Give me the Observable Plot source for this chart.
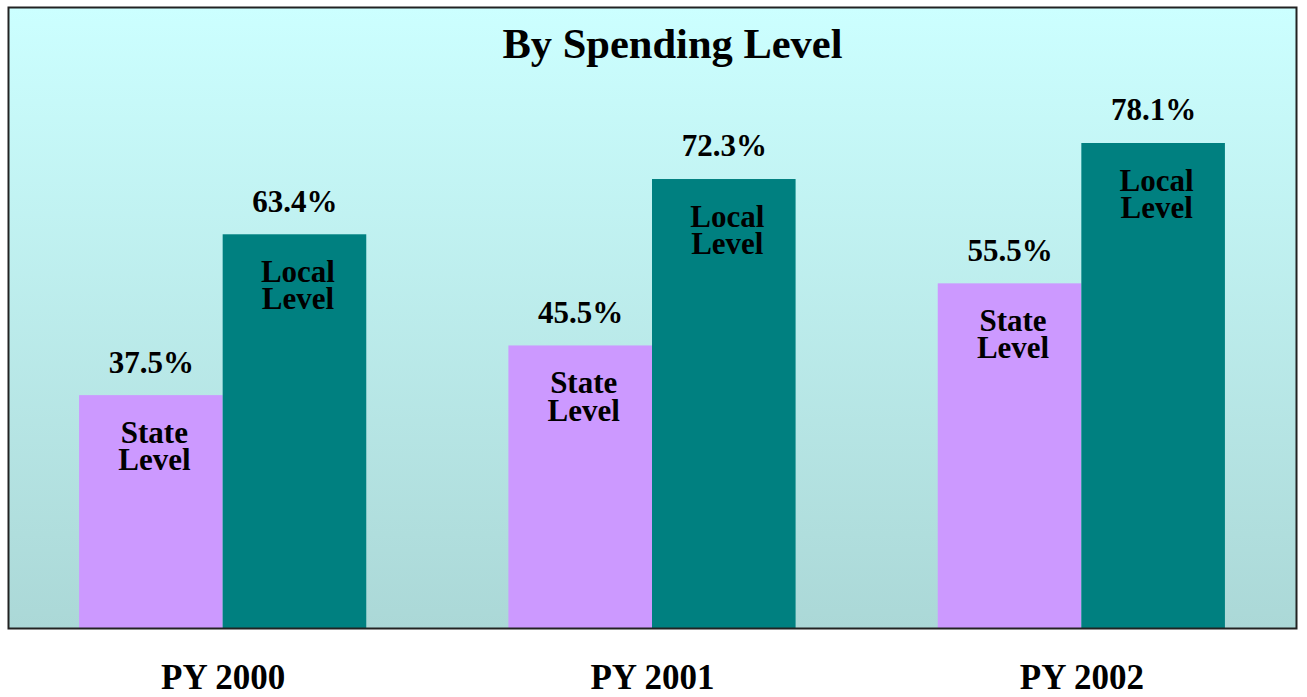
<!DOCTYPE html>
<html><head><meta charset="utf-8">
<script src="https://cdn.jsdelivr.net/npm/d3@7"></script>
<script src="https://cdn.jsdelivr.net/npm/@observablehq/plot@0.6"></script>
<style>body{margin:0;background:#fff;} #chart svg{display:block}</style>
</head><body><div id="chart"></div>
<script>
const title = "By Spending Level";
const years = ["PY 2000", "PY 2001", "PY 2002"];
const levels = ["State Level", "Local Level"];
const stateValues = [37.5, 45.5, 55.5];
const localValues = [63.4, 72.3, 78.1];
const colors = ["#cc99ff", "#008080"];

const data = years.flatMap((y, i) => [
  {year: y, level: levels[0], value: stateValues[i]},
  {year: y, level: levels[1], value: localValues[i]}
]);
const serif = "'Liberation Serif','Times New Roman',Times,serif";

const svg = Plot.plot({
  width: 1307, height: 697,
  marginLeft: 8, marginRight: 11, marginTop: 7, marginBottom: 69,
  style: {fontFamily: serif, background: "transparent", color: "black", overflow: "visible"},
  fx: {domain: years, paddingInner: 0, paddingOuter: 0, round: false, label: null, axis: null},
  x: {domain: levels, paddingInner: 0, paddingOuter: 0.495, round: false, axis: null},
  y: {domain: [0, 100], axis: null},
  color: {domain: levels, range: colors},
  marks: [
    Plot.frame({facet: "super", fill: "url(#bgGrad)"}),
    Plot.barY(data, {fx: "year", x: "level", y: "value", fill: "level"}),
    Plot.text(data, {fx: "year", x: "level", y: "value", text: d => d.value.toFixed(1) + "%",
      dy: -33, fontSize: 31, fontWeight: "bold", fill: "black"}),
    Plot.text(data, {fx: "year", x: "level", y: "value", text: d => d.level.replace(" ", "\n"),
      lineAnchor: "top", dy: 28, dx: 3, fontSize: 31, fontWeight: "bold", lineHeight: 0.88, fill: "black"}),
    Plot.text([title], {facet: "super", frameAnchor: "top", lineAnchor: "top", dy: 20, dx: 20,
      fontSize: 42.5, fontWeight: "bold", fill: "black"}),
    Plot.axisFx({anchor: "bottom", tickSize: 0, tickPadding: 36, fontSize: 35, fontWeight: "bold", label: null, fill: "black"}),
    Plot.frame({facet: "super", stroke: "#222", strokeWidth: 2})
  ]
});

const ns = "http://www.w3.org/2000/svg";
const defs = document.createElementNS(ns, "defs");
const grad = document.createElementNS(ns, "linearGradient");
grad.setAttribute("id", "bgGrad");
grad.setAttribute("x1", "0"); grad.setAttribute("y1", "0");
grad.setAttribute("x2", "0"); grad.setAttribute("y2", "1");
[["0%", "#ccffff"], ["100%", "#abd8d7"]].forEach(([o, c]) => {
  const s = document.createElementNS(ns, "stop");
  s.setAttribute("offset", o); s.setAttribute("stop-color", c);
  grad.appendChild(s);
});
defs.appendChild(grad);
svg.insertBefore(defs, svg.firstChild);
document.getElementById("chart").appendChild(svg);
</script>
</body></html>
